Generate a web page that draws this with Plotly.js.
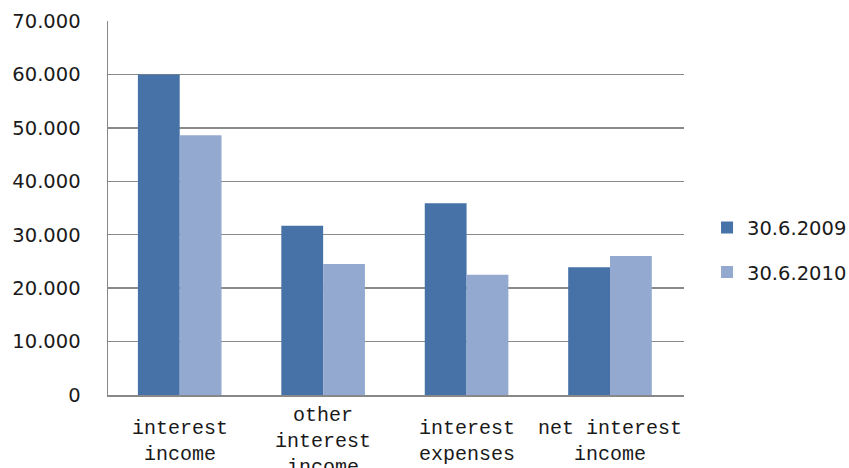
<!DOCTYPE html>
<html>
<head>
<meta charset="utf-8">
<script src="https://cdn.plot.ly/plotly-3.0.1.min.js"></script>
<style>html,body{margin:0;padding:0;background:#fff;}#chart{width:849px;height:468px;}</style>
</head>
<body>
<div id="chart"></div>
<script>
const categories = ["interest income", "other interest income", "interest expenses", "net interest income"];
const categoryLabels = ["interest<br>income", "other<br>interest<br>income", "interest<br>expenses", "net interest<br>income"];
const seriesNames = ["30.6.2009", "30.6.2010"];
const values2009 = [60000, 31700, 35900, 23900];
const values2010 = [48600, 24500, 22500, 26000];
const yTickValues = [0, 10000, 20000, 30000, 40000, 50000, 60000, 70000];

const traces = [
  {type: 'bar', name: seriesNames[0], x: categories, y: values2009, legendgroup: 'a',
   marker: {color: '#4672A8', line: {width: 0}}},
  {type: 'bar', name: seriesNames[1], x: categories, y: values2010, legendgroup: 'b',
   marker: {color: '#94A9D0', line: {width: 0}}}
];

const annotations = categories.map((c, i) => ({
  x: c, xref: 'x', y: -0.125, yref: 'paper', yanchor: 'middle', xanchor: 'center',
  text: categoryLabels[i], showarrow: false, align: 'center',
  font: {family: 'Liberation Mono, Courier New, monospace', size: 20, color: '#1a1a1a'}
}));

const layout = {
  width: 849, height: 468,
  margin: {l: 108, r: 165, t: 21, b: 73, autoexpand: false},
  paper_bgcolor: '#fff', plot_bgcolor: '#fff',
  separators: ',.',
  barmode: 'group', bargap: 0.417, bargroupgap: 0,
  showlegend: true,
  legend: {x: 1.04, xanchor: 'left', y: 0.388, yanchor: 'middle',
           font: {family: 'DejaVu Sans, Verdana, sans-serif', size: 19.5, color: '#1a1a1a'},
           traceorder: 'grouped', tracegroupgap: 16, itemwidth: 30},
  xaxis: {type: 'category', showticklabels: false, showgrid: false, zeroline: false,
          showline: true, linecolor: '#888', linewidth: 1.5, ticks: ''},
  yaxis: {range: [0, 70000], tickvals: yTickValues, tickformat: ',d',
          showgrid: true, gridcolor: '#8a8a8a', gridwidth: 1.5, zeroline: false,
          showline: true, linecolor: '#888', linewidth: 1.5, ticks: '',
          ticklabelstandoff: 22,
          tickfont: {family: 'DejaVu Sans, Verdana, sans-serif', size: 19.5, color: '#1a1a1a'}},
  annotations: annotations
};

Plotly.newPlot('chart', traces, layout, {staticPlot: true, displayModeBar: false});
</script>
</body>
</html>
